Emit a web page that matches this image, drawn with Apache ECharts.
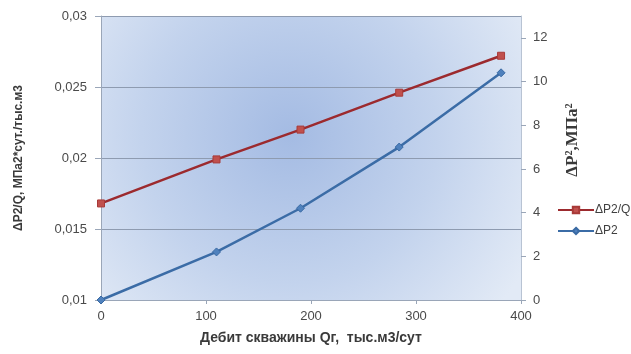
<!DOCTYPE html>
<html>
<head>
<meta charset="utf-8">
<script src="https://cdn.jsdelivr.net/npm/echarts@6/dist/echarts.min.js"></script>
<style>
  html, body { margin: 0; padding: 0; background: #fff; }
  #chart { width: 631px; height: 354px; }
</style>
</head>
<body>
<div id="chart"></div>
<script>
// Well flow rate, thousand m3/day
const flowRate = [0, 110, 190, 284, 381];
// ΔP²/Q, MPa²·day / thousand m3 (left axis)
const dp2PerQ = [0.0168, 0.0199, 0.0220, 0.0246, 0.0272];
// ΔP², MPa² (right axis)
const dp2 = [0, 2.2, 4.2, 7.0, 10.4];

const xTicks = [0, 100, 200, 300, 400];
const rightTicks = [0, 2, 4, 6, 8, 10, 12];

const labelFont = 'Liberation Sans, Arial, sans-serif';
const labelColor = '#4a4a4a';
const gridLineColor = '#8e9bb0';

const chart = echarts.init(document.getElementById('chart'), null, { renderer: 'canvas' });

const pairs = (xs, ys) => xs.map((x, i) => [x, ys[i]]);

chart.setOption({
  animation: false,
  backgroundColor: '#ffffff',
  grid: {
    left: 101, right: 110, top: 16, bottom: 54,
    show: true,
    borderWidth: 0,
    backgroundColor: {
      type: 'radial', x: 0.45, y: 0.42, r: 0.95,
      colorStops: [
        { offset: 0, color: '#a4bbe3' },
        { offset: 0.55, color: '#c3d3ed' },
        { offset: 1, color: '#e2eaf6' }
      ]
    }
  },
  legend: {
    orient: 'vertical',
    left: 552, top: 199,
    itemWidth: 36, itemHeight: 8, itemGap: 9,
    textStyle: { fontFamily: labelFont, fontSize: 12, color: '#404040', padding: [0, 0, 0, -4] },
    data: ['ΔP2/Q', 'ΔP2']
  },
  xAxis: {
    type: 'value',
    min: 0, max: 400, interval: 100,
    name: 'Дебит скважины Qг,  тыс.м3/сут',
    nameLocation: 'middle', nameGap: 31,
    nameTextStyle: { fontFamily: labelFont, fontSize: 14, fontWeight: 'bold', color: '#3a3a3a' },
    axisLine: { show: true, lineStyle: { color: '#9aa6b8', width: 1 } },
    axisTick: { show: true, length: 4, lineStyle: { color: '#9aa6b8' } },
    axisLabel: { fontFamily: labelFont, fontSize: 13, color: labelColor, margin: 10,
                 customValues: xTicks },
    splitLine: { show: false }
  },
  yAxis: [
    {
      type: 'value',
      min: 0.01, max: 0.03, interval: 0.005,
      position: 'left',
      name: 'ΔP2/Q, МПа2*сут./тыс.м3',
      nameLocation: 'middle', nameGap: 76, nameRotate: 90,
      nameTextStyle: { fontFamily: labelFont, fontSize: 12, fontWeight: 'bold', color: '#3a3a3a' },
      axisLine: { show: true, lineStyle: { color: '#9aa6b8', width: 1 } },
      axisTick: { show: true, length: 6, lineStyle: { color: '#9aa6b8' } },
      axisLabel: {
        fontFamily: labelFont, fontSize: 13, color: labelColor, margin: 14,
        formatter: v => Number(v.toFixed(4)).toString().replace('.', ',')
      },
      splitLine: { show: true, lineStyle: { color: gridLineColor, width: 1 } }
    },
    {
      type: 'value',
      min: 0, max: 13,
      position: 'right',
      axisLine: { show: true, lineStyle: { color: '#b8c3d3', width: 1 } },
      axisTick: { show: true, length: 5, lineStyle: { color: '#9aa6b8' }, customValues: rightTicks },
      axisLabel: { fontFamily: labelFont, fontSize: 13, color: labelColor, margin: 12,
                   customValues: rightTicks },
      splitLine: { show: false }
    }
  ],
  graphic: [
    {
      type: 'text',
      x: 564, y: 140,
      rotation: Math.PI / 2,
      style: {
        text: 'ΔP²,МПа²',
        font: 'bold 17px "Liberation Serif", "Times New Roman", serif',
        fill: '#3a3a3a',
        align: 'center', verticalAlign: 'top'
      }
    }
  ],
  series: [
    {
      name: 'ΔP2/Q',
      type: 'line',
      yAxisIndex: 0,
      data: pairs(flowRate, dp2PerQ),
      symbol: 'rect', symbolSize: 7,
      itemStyle: { color: '#c0504d', borderColor: '#a83a38', borderWidth: 1 },
      lineStyle: { color: '#9c2a2e', width: 2.5 }
    },
    {
      name: 'ΔP2',
      type: 'line',
      yAxisIndex: 1,
      data: pairs(flowRate, dp2),
      symbol: 'diamond', symbolSize: 8,
      itemStyle: { color: '#4f81bd', borderColor: '#3a6aa3', borderWidth: 1 },
      lineStyle: { color: '#3b6ca6', width: 2.5 }
    }
  ]
});
</script>
</body>
</html>
